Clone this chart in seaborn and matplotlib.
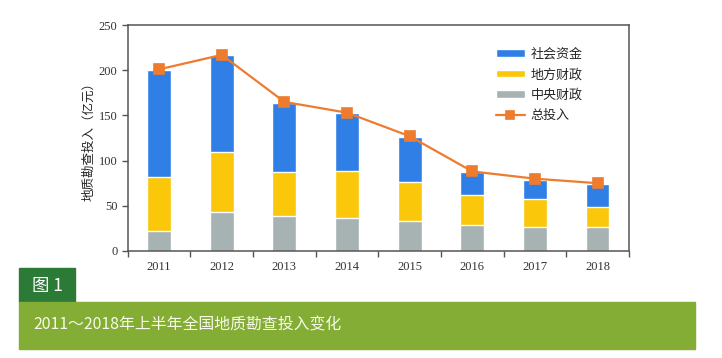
import numpy as np
import pandas as pd
import matplotlib
matplotlib.use("Agg")
import matplotlib.pyplot as plt
from matplotlib.patches import Rectangle
import seaborn as sns

# data (亿元)
years = ["2011", "2012", "2013", "2014", "2015", "2016", "2017", "2018"]
central = [22, 43, 39, 36, 33, 29, 26, 26]        # 中央财政
local = [60, 67, 48, 52, 43, 33, 32, 23]          # 地方财政
social = [118, 107, 77, 65, 50, 25, 21, 25]       # 社会资金
total = [201, 217, 165, 153, 127, 88, 80, 75]     # 总投入
series_names = ["社会资金", "地方财政", "中央财政", "总投入"]
y_ticks = [0, 50, 100, 150, 200, 250]

sns.set_theme(style="white")
plt.rcParams["font.family"] = ["Noto Sans CJK SC", "DejaVu Sans"]

df = pd.DataFrame({"year": years, "central": central, "local": local, "social": social})
df["lower2"] = df["central"] + df["local"]
df["top"] = df["lower2"] + df["social"]

fig = plt.figure(figsize=(7.22, 3.58), dpi=100)
ax = fig.add_axes([0.177, 0.299, 0.694, 0.631])

blue, yellow, grey, orange = "#2f7fe6", "#fbc70b", "#a7b3b3", "#ee7c2f"
w = 0.38
sns.barplot(data=df, x="year", y="top", color=blue, width=w, saturation=1, ax=ax, label=series_names[0])
sns.barplot(data=df, x="year", y="lower2", color=yellow, width=w, saturation=1, ax=ax, label=series_names[1])
sns.barplot(data=df, x="year", y="central", color=grey, width=w, saturation=1, ax=ax, label=series_names[2])
sns.pointplot(x=years, y=total, color=orange, markers="s", markersize=7, linewidth=1.6, ax=ax, label=series_names[3])

ax.set_xlim(-0.5, len(years) - 0.5)
ax.set_ylim(0, 250)
ax.set_yticks(y_ticks)
ax.set_xlabel("")
ax.set_ylabel("地质勘查投入（亿元）", fontsize=9, color="#222", labelpad=2)

serif = ["Liberation Serif", "DejaVu Serif"]
for lab in ax.get_xticklabels() + ax.get_yticklabels():
    lab.set_family(serif)
    lab.set_fontsize(9)
    lab.set_color("#333")
ax.tick_params(axis="x", which="major", length=0, pad=7)
ax.set_xticks(np.arange(-0.5, len(years), 1.0), minor=True)
ax.tick_params(axis="x", which="minor", length=4, width=1, color="#555", direction="out", bottom=True)
ax.tick_params(axis="y", length=4, width=1, color="#555", direction="out", left=True)
for s in ax.spines.values():
    s.set_color("#555")
    s.set_linewidth(1.1)

h, l = ax.get_legend_handles_labels()
order = [l.index(n) for n in series_names]
ax.legend([h[i] for i in order], [l[i] for i in order], loc="upper left",
          bbox_to_anchor=(0.735, 0.90), frameon=False, borderpad=0, borderaxespad=0,
          fontsize=9.4, handlelength=2.2, handletextpad=0.45, labelspacing=0.58, handleheight=0.5,
          markerscale=0.9)

# caption block
fig.patches.append(Rectangle((19 / 722, (358 - 302) / 358), 56 / 722, 34 / 358,
                             transform=fig.transFigure, color="#2b7b36", zorder=0))
fig.patches.append(Rectangle((19 / 722, (358 - 349) / 358), 676 / 722, 47 / 358,
                             transform=fig.transFigure, color="#83ad35", zorder=0))
fig.text(32 / 722, (358 - 286) / 358, "图 1", color="white", fontsize=12.5, va="center")
fig.text(33 / 722, (358 - 325) / 358, "2011～2018年上半年全国地质勘查投入变化", color="#f7fbe8",
         fontsize=11.4, va="center")

fig.savefig("out.png", dpi=100)
